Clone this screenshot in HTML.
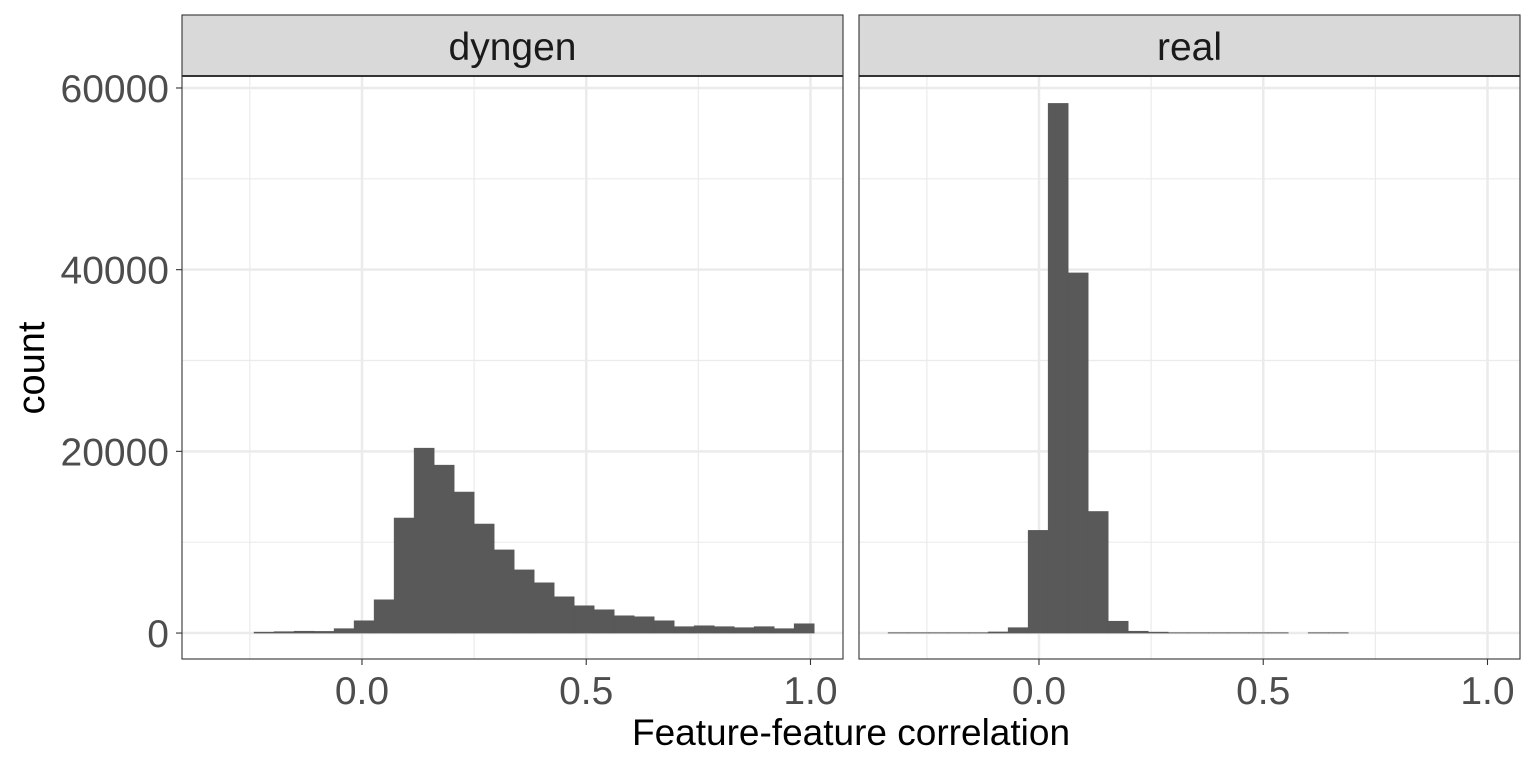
<!DOCTYPE html>
<html><head><meta charset="utf-8"><style>
body{margin:0;background:#fff;}
svg{display:block;font-family:"Liberation Sans",sans-serif;}
</style></head><body>
<svg id="chart" width="1536" height="768" viewBox="0 0 1536 768" xmlns="http://www.w3.org/2000/svg"></svg>
<script>
const yTicks=[0,20000,40000,60000];
const yTickLabels=["0","20000","40000","60000"];
const yMinor=[10000,30000,50000];
const xTicks=[0,0.5,1.0];
const xTickLabels=["0.0","0.5","1.0"];
const xMinor=[-0.25,0.25,0.75];
const binWidth=0.0446;
const dyngenStart=-0.2405;
const dyngenCounts=[100,150,200,180,480,1350,3660,12660,20350,18480,15520,12000,9150,6950,5530,3990,3000,2560,1900,1790,1350,700,800,700,590,700,480,1020];
const realStart=-0.3363;
const realCounts=[40,40,40,40,40,120,590,11300,58300,39640,13380,1300,200,100,40,40,40,40,40,40,0,40,40];
const panels=[{name:"dyngen",x0:182,start:dyngenStart,counts:dyngenCounts},{name:"real",x0:859,start:realStart,counts:realCounts}];
const NS="http://www.w3.org/2000/svg";
const svg=document.getElementById('chart');
const PW=661, PT=76, PB=659, STRIP_T=15;
const xMin=-0.4013, xMax=1.0725;
const yMin=-2857, yMax=61319;
function sx(p,v){return p.x0+(v-xMin)/(xMax-xMin)*PW;}
function sy(v){return PB-(v-yMin)/(yMax-yMin)*(PB-PT);}
function el(tag,attrs,parent){const e=document.createElementNS(NS,tag);for(const k in attrs)e.setAttribute(k,attrs[k]);(parent||svg).appendChild(e);return e;}
panels.forEach((p,pi)=>{
  const g=el('g',{});
  
  
  yMinor.forEach(v=>{const l=el('line',{x1:p.x0,x2:p.x0+PW,y1:sy(v),y2:sy(v),stroke:'#ebebeb','stroke-width':1.2},g);
    
    });
  xMinor.forEach(v=>{const l=el('line',{x1:sx(p,v),x2:sx(p,v),y1:PT,y2:PB,stroke:'#ebebeb','stroke-width':1.2},g);
    
    });
  yTicks.forEach(v=>{const l=el('line',{x1:p.x0,x2:p.x0+PW,y1:sy(v),y2:sy(v),stroke:'#ebebeb','stroke-width':2.5},g);
    
    });
  xTicks.forEach(v=>{const l=el('line',{x1:sx(p,v),x2:sx(p,v),y1:PT,y2:PB,stroke:'#ebebeb','stroke-width':2.5},g);
    
    });
  p.counts.forEach((c,i)=>{
    if(c<=0)return;
    const a=p.start+i*binWidth,b=a+binWidth;
    const r=el('rect',{x:sx(p,a),y:sy(c),width:sx(p,b)-sx(p,a),height:sy(0)-sy(c),fill:'#595959',stroke:'#595959','stroke-width':0.6},g);
    
    
  });
  const bd=el('rect',{x:p.x0,y:PT,width:PW,height:PB-PT,fill:'none',stroke:'#333','stroke-width':1.1},g);
  
  
  const st=el('rect',{x:p.x0,y:STRIP_T,width:PW,height:PT-STRIP_T,fill:'#d9d9d9',stroke:'#333','stroke-width':1.1},g);
  
  
  const sl=el('line',{x1:p.x0,x2:p.x0+PW,y1:PT,y2:PT,stroke:'#333','stroke-width':2},g);
  
  
  const stt=el('text',{x:p.x0+PW/2,y:60,'text-anchor':'middle','font-size':39,fill:'#1a1a1a'},g);
  stt.textContent=p.name;
  
  
  xTicks.forEach((v,i)=>{
    const t=el('line',{x1:sx(p,v),x2:sx(p,v),y1:PB,y2:PB+6,stroke:'#333','stroke-width':1.1},g);
    
    
    const tx=el('text',{x:sx(p,v),y:704,'text-anchor':'middle','font-size':39,fill:'#4d4d4d'},g);
    tx.textContent=xTickLabels[i];
    
    
  });
  if(pi===0){
    yTicks.forEach((v,i)=>{
      const t=el('line',{x1:p.x0-6,x2:p.x0,y1:sy(v),y2:sy(v),stroke:'#333','stroke-width':1.1},g);
      
      
      const tx=el('text',{x:p.x0-13,y:sy(v)+14,'text-anchor':'end','font-size':39,fill:'#4d4d4d'},g);
      tx.textContent=yTickLabels[i];
      
      
    });
  }
});
const xt=el('text',{x:851,y:745,'text-anchor':'middle','font-size':37,fill:'#000'});
xt.textContent='Feature-feature correlation';


const yt=el('text',{x:0,y:0,'text-anchor':'middle','font-size':38,fill:'#000',transform:'translate(44,368) rotate(-90)'});
yt.textContent='count';


</script>
</body></html>
